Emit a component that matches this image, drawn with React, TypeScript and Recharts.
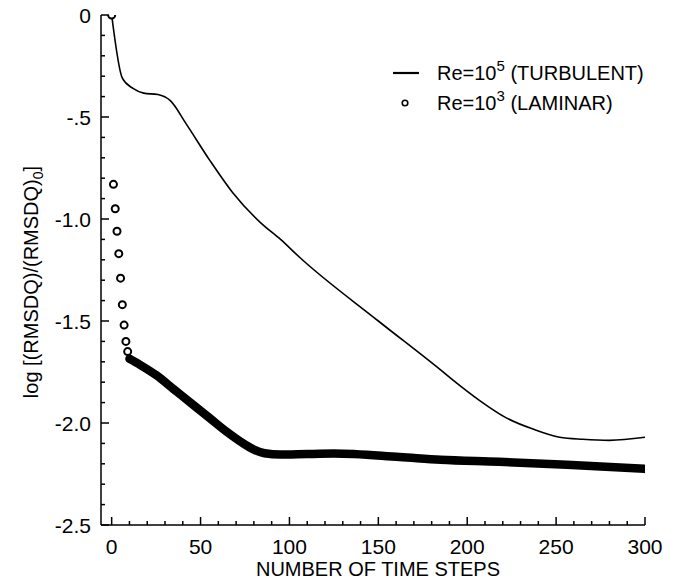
import React from 'react';
import { ComposedChart, Line, Scatter, XAxis, YAxis, Legend } from 'recharts';

const FONT = '"Liberation Sans", Arial, Helvetica, sans-serif';

// axis ticks: minor every 10 steps / 0.1 decade, labelled ones in the maps
const stepTicks = [0, 10, 20, 30, 40, 50, 60, 70, 80, 90, 100, 110, 120, 130, 140, 150, 160, 170, 180, 190, 200, 210, 220, 230, 240, 250, 260, 270, 280, 290, 300];
const stepLabels = [0, 50, 100, 150, 200, 250, 300];
const logTicks = [0, -0.1, -0.2, -0.3, -0.4, -0.5, -0.6, -0.7, -0.8, -0.9, -1, -1.1, -1.2, -1.3, -1.4, -1.5, -1.6, -1.7, -1.8, -1.9, -2, -2.1, -2.2, -2.3, -2.4, -2.5];
const logLabels: Record<string, string> = { '0': '0', '-0.5': '-.5', '-1': '-1.0', '-1.5': '-1.5', '-2': '-2.0', '-2.5': '-2.5' };

const seriesNames = ['(TURBULENT)', '(LAMINAR)'];
const seriesExp = ['5', '3'];

// Re=10^5 turbulent run
const turbSteps = [0, 6, 12, 18, 26, 33, 42, 55, 68, 84, 95, 106, 150, 185, 192, 207, 222, 237, 252, 265, 280, 300];
const turbLog = [0, -0.31, -0.36, -0.383, -0.39, -0.42, -0.535, -0.71, -0.87, -1.02, -1.1, -1.19, -1.5, -1.74, -1.79, -1.89, -1.975, -2.03, -2.07, -2.08, -2.085, -2.07];

// Re=10^3 laminar run: separate circles for the first steps...
const lamDotSteps = [0, 1, 2, 3, 4, 5, 6, 7, 8, 9];
const lamDotLog = [0, -0.83, -0.95, -1.06, -1.17, -1.29, -1.42, -1.52, -1.6, -1.65];
// ...then the circles merge into a solid band
const lamBandSteps = [10, 16, 25, 35, 45, 55, 65, 74, 80, 86, 95, 110, 125, 162, 185, 218, 256, 300];
const lamBandLog = [-1.685, -1.715, -1.765, -1.835, -1.905, -1.975, -2.045, -2.1, -2.13, -2.148, -2.155, -2.152, -2.15, -2.167, -2.18, -2.19, -2.205, -2.225];

const turbData = turbSteps.map((x, i) => ({ x, y: turbLog[i] }));
const lamDots = lamDotSteps.map((x, i) => ({ x, y: lamDotLog[i] }));
const lamBand = lamBandSteps.map((x, i) => ({ x, y: lamBandLog[i] }));

const StepTick = (props: any) => {
  const { x, y, payload } = props;
  const major = stepLabels.includes(payload.value);
  return (
    <g>
      <line x1={x} x2={x} y1={y} y2={y - (major ? 8 : 4)} stroke="#000" strokeWidth={1.5} />
      {major && (
        <text x={x} y={y + 29} textAnchor="middle" fontSize={21} fontFamily={FONT} fill="#000">
          {payload.value}
        </text>
      )}
    </g>
  );
};

const LogTick = (props: any) => {
  const { x, y, payload } = props;
  const label = logLabels[String(payload.value)];
  return (
    <g>
      <line x1={x} x2={x + (label ? 8 : 4)} y1={y} y2={y} stroke="#000" strokeWidth={1.5} />
      {label && (
        <text x={x - 10} y={y} dy="0.36em" textAnchor="end" fontSize={21} fontFamily={FONT} fill="#000">
          {label}
        </text>
      )}
    </g>
  );
};

const Circle = (props: any) => (
  <circle cx={props.cx} cy={props.cy} r={3.5} fill="#fff" stroke="#000" strokeWidth={2} />
);

const renderLegend = () => (
  <svg width={290} height={80} style={{ display: 'block' }}>
    <line x1={13} x2={39} y1={23} y2={23} stroke="#000" strokeWidth={2.2} />
    <circle cx={25} cy={53} r={2.8} fill="#fff" stroke="#000" strokeWidth={1.6} />
    {seriesNames.map((name, i) => (
      <text key={name} x={57} y={30 + i * 30} fontSize={20} fontFamily={FONT} fill="#000">
        Re=10
        <tspan dy={-9} fontSize={15}>{seriesExp[i]}</tspan>
        <tspan dy={9}> {name}</tspan>
      </text>
    ))}
  </svg>
);

export default function App() {
  return (
    <div style={{ width: 678, height: 582 }}>
      <style>{'body { margin: 0; }'}</style>
      <ComposedChart width={678} height={582} margin={{ top: 15, right: 33, bottom: 0, left: 0 }}>
        <XAxis
          type="number"
          dataKey="x"
          domain={[-6, 300]}
          ticks={stepTicks}
          interval={0}
          allowDataOverflow
          height={57}
          tickSize={0}
          tickMargin={0}
          tickLine={false}
          axisLine={{ stroke: '#000', strokeWidth: 1.5 }}
          tick={StepTick}
          label={{
            content: () => (
              <text x={378} y={576} textAnchor="middle" fontSize={20} fontFamily={FONT} fill="#000">
                NUMBER OF TIME STEPS
              </text>
            ),
          }}
        />
        <YAxis
          type="number"
          dataKey="y"
          domain={[-2.5, 0]}
          ticks={logTicks}
          interval={0}
          allowDataOverflow
          width={101}
          tickSize={0}
          tickMargin={0}
          tickLine={false}
          axisLine={{ stroke: '#000', strokeWidth: 1.5 }}
          tick={LogTick}
          label={{
            content: () => (
              <text
                x={31}
                y={282}
                transform="rotate(-90, 31, 282)"
                dy={7}
                textAnchor="middle"
                fontSize={20}
                fontFamily={FONT}
                fill="#000"
              >
                log [(RMSDQ)/(RMSDQ)
                <tspan dy={5} fontSize={14}>0</tspan>
                <tspan dy={-5}>]</tspan>
              </text>
            ),
          }}
        />
        <Legend
          layout="horizontal"
          verticalAlign="middle"
          align="center"
          content={renderLegend}
          wrapperStyle={{ left: 380, top: 50, width: 290, height: 80 }}
        />
        <Line
          data={lamBand}
          dataKey="y"
          type="monotone"
          stroke="#000"
          strokeWidth={8.5}
          strokeLinecap="round"
          dot={false}
          activeDot={false}
          isAnimationActive={false}
        />
        <Scatter data={lamDots} dataKey="y" shape={Circle} isAnimationActive={false} />
        <Line
          data={turbData}
          dataKey="y"
          type="monotone"
          stroke="#000"
          strokeWidth={1.6}
          dot={false}
          activeDot={false}
          isAnimationActive={false}
        />
      </ComposedChart>
    </div>
  );
}
